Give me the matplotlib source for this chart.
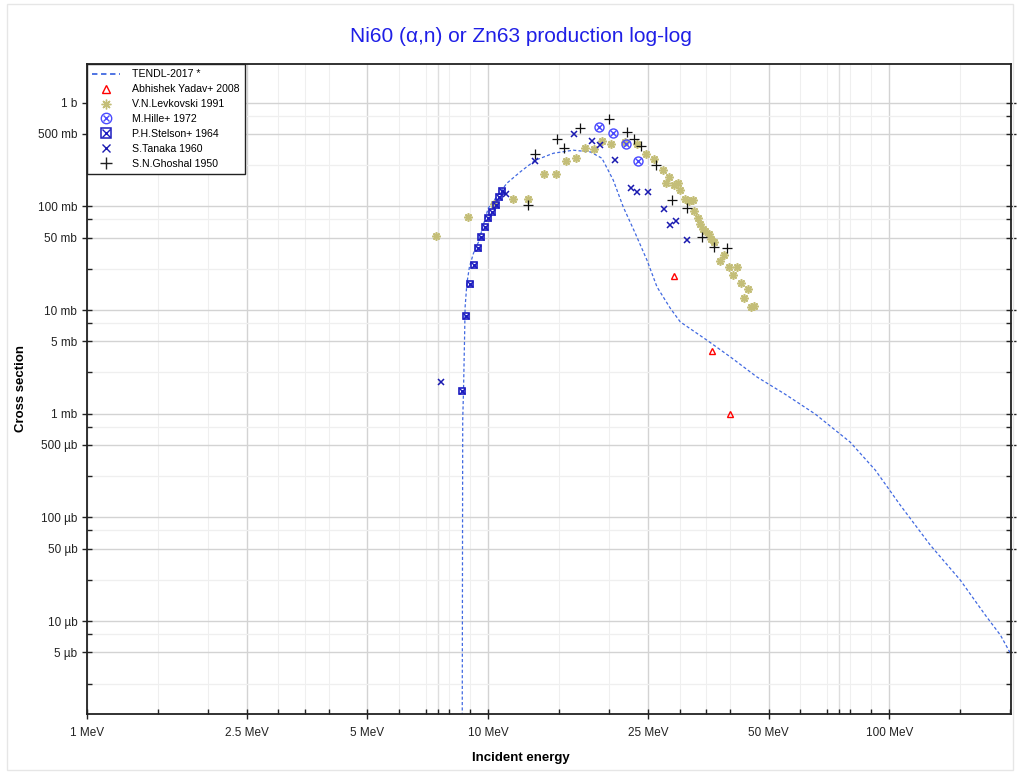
import numpy as np
import matplotlib
matplotlib.use("Agg")
import matplotlib.pyplot as plt
from matplotlib.lines import Line2D
from matplotlib.legend_handler import HandlerTuple
from matplotlib.ticker import FixedLocator, NullFormatter

plt.rcParams['font.family'] = ['Liberation Sans', 'DejaVu Sans']

# energies in MeV, cross sections in barn
tendl_e = [8.60, 8.64, 8.68, 8.73, 8.76, 8.85, 8.98, 9.19, 9.46, 10.0, 11.13, 12.02,
           13.10, 14.53, 16.29, 17.97, 19.21, 20.50, 21.71, 23.26, 24.88, 26.35,
           28.44, 30.12, 35.12, 40.14, 46.77, 55.0, 65.4, 79.9, 92.3, 106.5, 126.5,
           150.3, 173.5, 189.2, 201.5]
tendl_s = [1e-8, 8.65e-4, 1.69e-3, 5.11e-3, 0.0107, 0.0181, 0.0261, 0.0353, 0.0454,
           0.0959, 0.167, 0.215, 0.278, 0.325, 0.348, 0.335, 0.291, 0.179, 0.0987,
           0.0550, 0.0302, 0.0167, 0.0104, 0.00768, 0.00511, 0.00353, 0.00226,
           1.54e-3, 9.9e-4, 5.31e-4, 2.85e-4, 1.31e-4, 5.40e-5, 2.48e-5, 1.14e-5,
           7.31e-6, 4.69e-6]

yadav_e = [29.09, 36.14, 40.14]
yadav_s = [0.0212, 4.03e-3, 1.0e-3]

levk_e = [7.41, 8.93, 10.35, 11.52, 12.60, 13.74, 14.75, 15.65, 16.55, 17.46, 18.31,
          19.24, 20.26, 21.96, 23.49, 24.74, 25.94, 27.32, 28.22, 27.79, 28.98, 29.73,
          30.12, 30.99, 31.59, 32.32, 32.64, 33.27, 33.73, 34.31, 34.76, 35.43, 35.98,
          36.61, 37.74, 38.78, 39.74, 41.71, 40.76, 42.68, 44.42, 43.42, 45.28, 46.06]
levk_s = [0.0515, 0.0791, 0.106, 0.119, 0.119, 0.207, 0.203, 0.274, 0.293, 0.363, 0.361,
          0.427, 0.400, 0.422, 0.397, 0.323, 0.286, 0.223, 0.191, 0.167, 0.160, 0.168,
          0.143, 0.118, 0.113, 0.115, 0.0897, 0.078, 0.0683, 0.0611, 0.0579, 0.0538,
          0.0479, 0.0458, 0.030, 0.034, 0.0261, 0.0261, 0.0220, 0.0184, 0.0161, 0.0130,
          0.0106, 0.0110]

hille_e = [18.84, 20.46, 22.05, 23.57]
hille_s = [0.588, 0.515, 0.397, 0.272]

stelson_e = [8.61, 8.81, 9.02, 9.23, 9.43, 9.60, 9.83, 10.0, 10.21, 10.47, 10.63, 10.82]
stelson_s = [1.65e-3, 8.71e-3, 0.0180, 0.0270, 0.0394, 0.0507, 0.0633, 0.078, 0.0883,
             0.102, 0.123, 0.140]

tanaka_e = [7.64, 11.09, 13.05, 16.41, 18.14, 19.05, 20.65, 22.70, 23.49, 25.06, 27.37,
            28.39, 29.43, 31.35]
tanaka_s = [2.01e-3, 0.133, 0.274, 0.504, 0.431, 0.394, 0.283, 0.150, 0.138, 0.138,
            0.0944, 0.0662, 0.0718, 0.0474]

ghoshal_e = [12.60, 13.05, 14.84, 15.47, 16.96, 20.0, 22.18, 23.12, 24.07, 26.19, 28.77,
             31.22, 34.04, 36.47, 39.29]
ghoshal_s = [0.1025, 0.323, 0.444, 0.369, 0.569, 0.703, 0.522, 0.451, 0.382, 0.251,
             0.116, 0.0974, 0.0507, 0.0403, 0.0394]

x_ticks = [1, 2.5, 5, 10, 25, 50, 100]
x_labels = ['1 MeV', '2.5 MeV', '5 MeV', '10 MeV', '25 MeV', '50 MeV', '100 MeV']
y_ticks = [5e-6, 1e-5, 5e-5, 1e-4, 5e-4, 1e-3, 5e-3, 1e-2, 5e-2, 1e-1, 5e-1, 1]
y_labels = ['5 µb', '10 µb', '50 µb', '100 µb', '500 µb', '1 mb', '5 mb', '10 mb',
            '50 mb', '100 mb', '500 mb', '1 b']

fig = plt.figure(figsize=(10.2, 7.74), dpi=100)
ax = fig.add_axes([87 / 1020, 1 - 714 / 774, 924 / 1020, 650 / 774])
ax.set_xscale('log')
ax.set_yscale('log')
ax.set_xlim(1, 201)
ax.set_ylim(1.27e-6, 2.36)

# grid
decs = [1, 10, 100]
for d in decs:
    for m in [1.5, 2, 3, 3.5, 4, 6, 7, 8, 9]:
        ax.axvline(m * d, color='#efefef', lw=0.8, zorder=0)
    for m in [1, 2.5, 5, 7.5]:
        ax.axvline(m * d, color='#d3d3d3' if m != 7.5 else '#dedede', lw=1.0, zorder=0)
for k in range(-6, 1):
    d = 10.0 ** k
    for m in [2.5, 7.5]:
        ax.axhline(m * d, color='#efefef', lw=0.9, zorder=0)
    for m in [1, 5]:
        ax.axhline(m * d, color='#d3d3d3', lw=1.0, zorder=0)

ax.plot(tendl_e, tendl_s, color='#4169e1', lw=0.9, ls=(0, (2.5, 1.8)), zorder=2)

ax.plot(levk_e, levk_s, ls='none', marker=(8, 2, 0), ms=6, mew=1.2,
        color='#c4be78', zorder=3)
ax.plot(yadav_e, yadav_s, ls='none', marker='^', ms=5, mfc='none', mew=1.0,
        color='#ff0000', zorder=4)
ax.plot(hille_e, hille_s, ls='none', marker='o', ms=6.5, mfc='none', mew=1.0,
        color='#4a4aff', zorder=4)
ax.plot(hille_e, hille_s, ls='none', marker='x', ms=4, mew=1.0, color='#4a4aff', zorder=4)
ax.plot(stelson_e, stelson_s, ls='none', marker='s', ms=5, mfc='none', mew=1.2,
        color='#1c1cc0', zorder=4)
ax.plot(stelson_e, stelson_s, ls='none', marker='x', ms=3.8, mew=1.0, color='#1c1cc0',
        zorder=4)
ax.plot(tanaka_e, tanaka_s, ls='none', marker='x', ms=4, mew=1.1, color='#1a1ab0',
        zorder=5)
ax.plot(ghoshal_e, ghoshal_s, ls='none', marker='+', ms=6.5, mew=0.9, color='#111111',
        zorder=5)

ax.xaxis.set_major_locator(FixedLocator(x_ticks))
ax.set_xticklabels(x_labels)
xm = [m * d for d in decs for m in [1.5, 2, 3, 3.5, 4, 6, 7, 7.5, 8, 9] if m * d < 201]
ax.xaxis.set_minor_locator(FixedLocator(xm))
ax.xaxis.set_minor_formatter(NullFormatter())
ax.yaxis.set_major_locator(FixedLocator(y_ticks))
ax.set_yticklabels(y_labels)
ym = [m * 10.0 ** k for k in range(-6, 1) for m in [2.5, 7.5]]
ax.yaxis.set_minor_locator(FixedLocator(ym))
ax.yaxis.set_minor_formatter(NullFormatter())

ax.tick_params(axis='both', which='major', direction='inout', length=7, width=1,
               labelsize=8.5, colors='#222222', labelcolor='#222222', right=True)
ax.tick_params(axis='both', which='minor', direction='in', length=3.5, width=1,
               right=True, colors='#222222')
ax.tick_params(axis='x', which='major', pad=6)
for s in ax.spines.values():
    s.set_linewidth(1.3)
    s.set_color('#222222')

ax.set_ylabel('Cross section', fontsize=9.5, fontweight='bold', labelpad=8)
fig.text(521 / 1020, 1 - 758 / 774, 'Incident energy', ha='center', va='center',
         fontsize=9.5, fontweight='bold')
fig.text(521 / 1020, 1 - 37 / 774, 'Ni60 (α,n) or Zn63 production log-log', ha='center',
         va='center', fontsize=15, color='#1f1fe6')

handles = [
    Line2D([], [], color='#4169e1', lw=1.3, ls=(0, (3, 2))),
    Line2D([], [], ls='none', marker='^', ms=6, mfc='none', mew=1.0, color='#ff0000'),
    Line2D([], [], ls='none', marker=(8, 2, 0), ms=7, mew=1.0, color='#c4be78'),
    (Line2D([], [], ls='none', marker='o', ms=7.5, mfc='none', mew=1.0, color='#4a4aff'),
     Line2D([], [], ls='none', marker='x', ms=4.5, mew=1.0, color='#4a4aff')),
    (Line2D([], [], ls='none', marker='s', ms=7, mfc='none', mew=1.1, color='#1c1cc0'),
     Line2D([], [], ls='none', marker='x', ms=6, mew=1.0, color='#1c1cc0')),
    Line2D([], [], ls='none', marker='x', ms=6, mew=1.0, color='#1a1ab0'),
    Line2D([], [], ls='none', marker='+', ms=9, mew=1.0, color='#222222'),
]
labels = ['TENDL-2017 *', 'Abhishek Yadav+ 2008', 'V.N.Levkovski 1991', 'M.Hille+ 1972',
          'P.H.Stelson+ 1964', 'S.Tanaka 1960', 'S.N.Ghoshal 1950']
leg = ax.legend(handles, labels, loc='upper left', bbox_to_anchor=(0, 1),
                borderaxespad=0, fontsize=7.6, frameon=True, fancybox=False,
                edgecolor='#222222', framealpha=1, labelspacing=0.47, handlelength=2.6,
                handletextpad=1.15, borderpad=0.5,
                handler_map={tuple: HandlerTuple(ndivide=1, pad=0)})
leg.get_frame().set_linewidth(1.0)
leg.set_zorder(10)

fig.patches.append(plt.Rectangle((7 / 1020, 4 / 774), 1006 / 1020, 766 / 774,
                                 transform=fig.transFigure, fill=False,
                                 edgecolor='#e6e6e6', lw=1.0))

fig.savefig('out.png', dpi=100)
